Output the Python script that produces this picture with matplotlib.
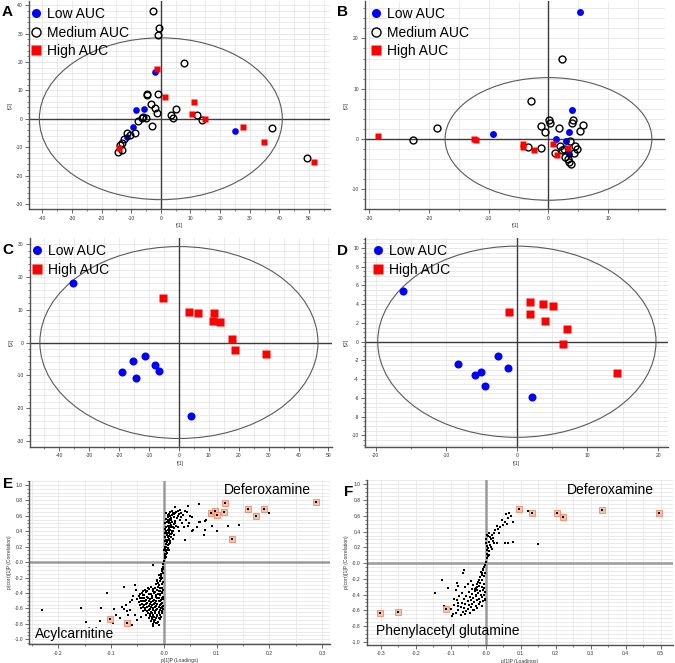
import numpy as np
import matplotlib.pyplot as plt
from matplotlib.patches import Ellipse
from matplotlib.ticker import MultipleLocator, FuncFormatter
from matplotlib.lines import Line2D

plt.rcParams['font.family'] = ['Liberation Sans', 'DejaVu Sans']
plt.rcParams['axes.unicode_minus'] = False

# --- Daten A (Scores, drei Gruppen) ---
a_low_x = [-2.0, -8.4, -5.7, -9.5, -11.5, 25.2]
a_low_y = [16.6, 3.1, 3.3, -2.8, -6.4, -4.2]
a_med_x = [-2.8, -0.5, -1.1, 7.8, -4.8, -4.8, -0.9, -3.4, -2.0, -1.2, 3.5, 5.2, 4.0, 12.1, 14.0,
           37.6, 49.3, -6.1, -5.0, -7.6, -3.1, -8.7, -10.4, -11.3, -12.4, -13.2, -13.8, -13.2, -14.4, -6.5]
a_med_y = [37.9, 32.1, 29.4, 19.7, 8.9, 8.3, 8.9, 5.2, 3.7, 1.9, 1.3, 3.3, 0.1, 1.3, -0.4,
           -3.1, -13.9, 0.7, 0.1, -0.7, -2.5, -5.1, -5.7, -4.9, -7.2, -8.4, -9.2, -11.0, -11.6, 0.1]
a_high_x = [-1.2, 1.4, 11.2, 10.4, 14.9, 27.6, 34.9, 51.7, -14.0]
a_high_y = [17.4, 7.8, 5.8, 1.8, -0.1, -2.8, -8.1, -15.1, -10.4]

# --- Daten B ---
b_low_x = [5.26, 4.0, 3.5, 1.2, 2.9, 3.4, -9.3]
b_low_y = [25.2, 5.8, 1.3, 0.0, -0.5, -3.0, 0.9]
b_med_x = [2.2, -2.9, -18.6, -22.6, 0.1, 0.3, -1.3, -0.6, 1.7, 3.9, 4.1, 5.7, 5.3, -3.5, -1.2,
           1.1, 2.2, 1.9, 3.6, 4.4, 4.8, 4.3, 3.3, 3.5, 3.7, 2.6, 2.7]
b_med_y = [16.0, 7.6, 2.1, -0.3, 3.8, 3.2, 2.5, 1.3, 2.1, 3.2, 3.7, 2.8, 1.6, -1.7, -1.8,
           -2.8, -2.2, -1.5, -0.4, -1.4, -2.0, -2.7, -4.0, -4.5, -5.0, -2.1, -3.5]
b_high_x = [-28.5, -12.4, -12.1, -4.3, -4.2, -2.5, 0.7, 3.3, 1.5]
b_high_y = [0.5, -0.1, -0.2, -1.0, -1.6, -2.2, -1.0, -1.9, -3.2]

# --- Daten C ---
c_low_x = [-35.5, -19.1, -15.4, -11.5, -14.3, -7.9, -6.5, 4.0]
c_low_y = [18.0, -9.0, -5.5, -4.1, -10.9, -6.9, -8.7, -22.3]
c_high_x = [-5.4, 3.5, 6.3, 11.8, 11.5, 13.8, 17.7, 18.8, 29.2]
c_high_y = [13.6, 9.2, 9.0, 8.9, 6.6, 6.3, 1.0, -2.3, -3.6]

# --- Daten D ---
d_low_x = [-16.1, -8.3, -5.9, -5.1, -4.5, -2.7, -1.2, 2.1]
d_low_y = [5.4, -2.4, -3.5, -3.2, -4.7, -1.5, -2.8, -5.9]
d_high_x = [-1.1, 1.8, 1.8, 3.7, 5.1, 4.0, 7.1, 6.6, 14.2]
d_high_y = [3.2, 4.2, 3.0, 4.05, 3.8, 2.2, 1.4, -0.2, -3.3]

# Hotelling-Ellipsen (Halbachsen)
ell_a, ell_b, ell_c, ell_d = (41, 28.5), (17.3, 12.2), (46.5, 29.2), (19.7, 10.2)

# --- Daten E (S-Plot) ---
e_hi = [(0.0885, 0.633), (0.097, 0.663), (0.101, 0.611), (0.116, 0.762), (0.114, 0.646),
        (0.130, 0.300), (0.160, 0.685), (0.174, 0.598), (0.190, 0.685), (0.289, 0.775),
        (-0.102, -0.737), (-0.069, -0.793)]
e_up = [(0.067, 0.75), (0.046, 0.73), (0.022, 0.71), (0.044, 0.65), (0.054, 0.59), (0.066, 0.525),
        (0.078, 0.53), (0.078, 0.42), (0.076, 0.35), (0.092, 0.47), (0.101, 0.40), (0.122, 0.47),
        (0.143, 0.48), (0.200, 0.633), (0.041, 0.287), (0.054, 0.40), (0.035, 0.50), (0.056, 0.42),
        (0.027, 0.46), (0.032, 0.58), (0.018, 0.63), (0.011, 0.65), (0.007, 0.61), (0.024, 0.65),
        (0.037, 0.61), (0.030, 0.67), (0.042, 0.55), (0.049, 0.60), (0.048, 0.50), (0.062, 0.46),
        (0.068, 0.52), (0.080, 0.55), (0.015, 0.66), (0.020, 0.62), (0.026, 0.60), (0.014, 0.56),
        (0.022, 0.53), (0.030, 0.55), (0.038, 0.45), (0.045, 0.47), (0.028, 0.40), (0.020, 0.44),
        (0.016, 0.38), (0.010, 0.47), (0.019, 0.49), (0.025, 0.57), (0.033, 0.63), (0.040, 0.66),
        (0.012, 0.60), (0.005, 0.63), (0.087, 0.64), (0.018, 0.40), (0.020, 0.35), (0.017, 0.30),
        (0.014, 0.33), (0.019, 0.58), (0.022, 0.50)]
e_col = [(0.001, 0.02), (0.002, 0.05), (0.003, 0.08), (0.002, 0.11), (0.004, 0.14), (0.003, 0.17),
         (0.005, 0.20), (0.004, 0.23), (0.006, 0.26), (0.005, 0.29), (0.007, 0.32), (0.006, 0.35),
         (0.008, 0.38), (0.007, 0.41), (0.009, 0.44), (0.008, 0.47), (0.010, 0.50), (0.009, 0.53),
         (0.011, 0.56), (0.008, 0.59), (0.006, 0.12), (0.008, 0.18), (0.009, 0.24), (0.010, 0.30),
         (0.011, 0.36), (0.012, 0.42), (0.013, 0.48), (0.014, 0.54), (0.003, 0.32), (0.004, 0.40),
         (0.005, 0.46), (0.006, 0.52), (0.003, 0.27), (0.002, 0.20), (0.010, 0.15), (0.012, 0.25),
         (0.015, 0.45), (0.016, 0.52), (0.002, 0.38), (0.004, 0.56), (0.004, 0.10), (0.006, 0.16),
         (0.007, 0.22), (0.008, 0.28), (0.009, 0.34), (0.010, 0.39), (0.012, 0.45), (0.012, 0.51),
         (0.013, 0.57), (0.016, 0.61), (0.002, 0.43), (0.003, 0.50), (0.007, 0.55), (0.010, 0.62),
         (0.022, 0.64), (0.026, 0.66), (0.029, 0.62), (0.024, 0.47), (0.018, 0.45), (0.015, 0.40),
         (0.013, 0.36), (0.011, 0.27), (0.001, 0.15), (0.005, 0.07), (0.005, 0.38)]
e_low = [(-0.001, -0.02), (-0.002, -0.06), (-0.004, -0.09), (-0.003, -0.12), (-0.006, -0.15),
         (-0.005, -0.18), (-0.008, -0.21), (-0.007, -0.24), (-0.011, -0.27), (-0.009, -0.30),
         (-0.020, -0.035), (-0.003, -0.20), (-0.010, -0.17), (-0.013, -0.23), (-0.002, -0.26),
         (-0.004, -0.29), (-0.015, -0.29), (-0.024, -0.32), (-0.017, -0.33), (-0.011, -0.32),
         (-0.004, -0.33), (-0.036, -0.36), (-0.028, -0.35), (-0.021, -0.37), (-0.013, -0.36),
         (-0.007, -0.37), (-0.001, -0.36), (-0.041, -0.40), (-0.034, -0.39), (-0.025, -0.41),
         (-0.019, -0.40), (-0.011, -0.41), (-0.004, -0.40), (-0.048, -0.44), (-0.039, -0.43),
         (-0.031, -0.45), (-0.022, -0.44), (-0.015, -0.45), (-0.008, -0.43), (-0.002, -0.45),
         (-0.051, -0.48), (-0.042, -0.47), (-0.034, -0.49), (-0.027, -0.48), (-0.018, -0.49),
         (-0.012, -0.47), (-0.005, -0.49), (-0.001, -0.48), (-0.047, -0.52), (-0.039, -0.51),
         (-0.031, -0.53), (-0.024, -0.52), (-0.017, -0.53), (-0.010, -0.51), (-0.003, -0.53),
         (-0.045, -0.56), (-0.037, -0.55), (-0.029, -0.57), (-0.022, -0.56), (-0.015, -0.57),
         (-0.008, -0.55), (-0.002, -0.57), (-0.043, -0.60), (-0.035, -0.59), (-0.027, -0.61),
         (-0.020, -0.60), (-0.013, -0.61), (-0.006, -0.59), (-0.001, -0.61), (-0.039, -0.64),
         (-0.031, -0.63), (-0.024, -0.65), (-0.017, -0.64), (-0.010, -0.65), (-0.004, -0.63),
         (-0.034, -0.68), (-0.027, -0.67), (-0.020, -0.69), (-0.013, -0.68), (-0.007, -0.69),
         (-0.029, -0.72), (-0.022, -0.71), (-0.015, -0.73), (-0.009, -0.72), (-0.025, -0.76),
         (-0.018, -0.75), (-0.011, -0.77), (-0.021, -0.80), (-0.014, -0.79),
         (-0.030, -0.34), (-0.020, -0.345), (-0.008, -0.34), (-0.040, -0.38), (-0.031, -0.375),
         (-0.017, -0.385), (-0.009, -0.38), (-0.003, -0.385), (-0.045, -0.42), (-0.037, -0.425),
         (-0.029, -0.42), (-0.015, -0.425), (-0.007, -0.415), (-0.046, -0.46), (-0.038, -0.465),
         (-0.030, -0.46), (-0.022, -0.465), (-0.009, -0.46), (-0.004, -0.465), (-0.044, -0.50),
         (-0.035, -0.505), (-0.028, -0.50), (-0.021, -0.505), (-0.014, -0.50), (-0.007, -0.505),
         (-0.042, -0.54), (-0.034, -0.545), (-0.026, -0.54), (-0.019, -0.545), (-0.012, -0.54),
         (-0.006, -0.545), (-0.040, -0.58), (-0.032, -0.585), (-0.024, -0.58), (-0.017, -0.585),
         (-0.010, -0.58), (-0.004, -0.585), (-0.036, -0.62), (-0.028, -0.625), (-0.021, -0.62),
         (-0.014, -0.625), (-0.008, -0.62), (-0.030, -0.66), (-0.023, -0.665), (-0.016, -0.66),
         (-0.010, -0.665), (-0.003, -0.66), (-0.026, -0.70), (-0.019, -0.705), (-0.012, -0.70),
         (-0.005, -0.705), (-0.023, -0.74), (-0.016, -0.745), (-0.008, -0.74), (-0.019, -0.78),
         (-0.012, -0.785), (-0.012, -0.25), (-0.006, -0.22), (-0.001, -0.14), (-0.002, -0.09)]
e_sparse = [(-0.230, -0.62), (-0.157, -0.59), (-0.148, -0.78), (-0.119, -0.59), (-0.121, -0.76),
            (-0.108, -0.40), (-0.097, -0.79), (-0.094, -0.61), (-0.075, -0.32), (-0.071, -0.56),
            (-0.064, -0.62), (-0.060, -0.49), (-0.055, -0.30), (-0.053, -0.36), (-0.050, -0.75),
            (-0.055, -0.68), (-0.043, -0.71), (-0.067, -0.68), (-0.076, -0.61), (-0.090, -0.68),
            (-0.084, -0.72), (-0.061, -0.81), (-0.020, -0.83), (-0.009, -0.81), (-0.058, -0.44),
            (-0.065, -0.52), (-0.080, -0.58), (-0.070, -0.64)]

# --- Daten F (S-Plot) ---
f_hi = [(0.096, 0.686), (0.131, 0.64), (0.205, 0.63), (0.220, 0.59), (0.331, 0.68), (0.496, 0.63),
        (-0.302, -0.63), (-0.251, -0.62), (-0.113, -0.585)]
f_up = [(0.122, 0.66), (0.149, 0.245), (0.067, 0.64), (0.071, 0.60), (0.065, 0.57), (0.055, 0.525),
        (0.077, 0.52), (0.050, 0.48), (0.041, 0.46), (0.031, 0.47), (0.046, 0.545), (0.024, 0.38),
        (0.039, 0.385), (0.010, 0.38), (0.007, 0.34), (0.014, 0.31), (0.020, 0.28), (0.024, 0.25),
        (0.012, 0.23), (0.007, 0.19), (0.017, 0.175), (0.005, 0.12), (0.003, 0.06), (0.001, 0.017),
        (0.031, 0.26), (0.055, 0.26), (0.065, 0.25), (0.079, 0.27), (0.004, 0.36), (0.002, 0.30),
        (0.008, 0.27), (0.015, 0.21), (0.003, 0.22), (0.010, 0.15), (0.006, 0.09), (0.012, 0.33),
        (0.018, 0.36), (0.002, 0.26), (0.009, 0.10), (0.004, 0.17), (0.020, 0.32), (0.027, 0.42),
        (0.034, 0.43), (0.060, 0.50), (0.058, 0.62)]
f_low = [(-0.002, -0.025), (-0.007, -0.09), (-0.010, -0.12), (-0.016, -0.18), (-0.021, -0.24),
         (-0.026, -0.30), (-0.004, -0.05), (-0.012, -0.15), (-0.018, -0.21), (-0.024, -0.27),
         (-0.008, -0.07), (-0.014, -0.11), (-0.003, -0.13), (-0.006, -0.17), (-0.010, -0.21),
         (-0.005, -0.26), (-0.015, -0.25), (-0.030, -0.33), (-0.035, -0.28), (-0.028, -0.31),
         (-0.020, -0.29), (-0.012, -0.30), (-0.006, -0.32), (-0.040, -0.33), (-0.032, -0.35),
         (-0.024, -0.34), (-0.016, -0.36), (-0.008, -0.34), (-0.002, -0.37), (-0.048, -0.37),
         (-0.038, -0.39), (-0.029, -0.40), (-0.021, -0.38), (-0.013, -0.41), (-0.005, -0.40),
         (-0.055, -0.42), (-0.045, -0.43), (-0.036, -0.44), (-0.027, -0.42), (-0.018, -0.45),
         (-0.010, -0.43), (-0.003, -0.47), (-0.062, -0.46), (-0.052, -0.48), (-0.042, -0.47),
         (-0.033, -0.49), (-0.024, -0.47), (-0.015, -0.50), (-0.007, -0.48), (-0.068, -0.51),
         (-0.058, -0.52), (-0.048, -0.53), (-0.038, -0.52), (-0.029, -0.54), (-0.020, -0.52),
         (-0.012, -0.55), (-0.072, -0.56), (-0.062, -0.57), (-0.052, -0.58), (-0.043, -0.56),
         (-0.033, -0.59), (-0.024, -0.57), (-0.078, -0.60), (-0.066, -0.62), (-0.055, -0.61),
         (-0.045, -0.63), (-0.036, -0.60), (-0.085, -0.64), (-0.070, -0.66), (-0.058, -0.65),
         (-0.095, -0.67), (-0.075, -0.42), (-0.068, -0.38), (-0.085, -0.34), (-0.078, -0.29),
         (-0.090, -0.45), (-0.060, -0.30), (-0.050, -0.26), (-0.042, -0.23), (-0.092, -0.53),
         (-0.100, -0.58), (-0.080, -0.55)]
f_sparse = [(-0.126, -0.21), (-0.107, -0.31), (-0.062, -0.09), (-0.064, -0.12), (-0.083, -0.25),
            (-0.116, -0.56), (-0.093, -0.65), (-0.002, -0.45), (-0.145, -0.377), (-0.119, -0.54),
            (-0.083, -0.47), (-0.080, -0.51)]

e_label_top, e_label_bot = 'Deferoxamine', 'Acylcarnitine'
f_label_top, f_label_bot = 'Deferoxamine', 'Phenylacetyl glutamine'

# --- Layout ---
W, H = 675, 663
fig = plt.figure(figsize=(W / 100, H / 100), dpi=100)


def px_axes(x0, x1, y0, y1):
    return fig.add_axes([x0 / W, 1 - y1 / H, (x1 - x0) / W, (y1 - y0) / H])


def style_axes(ax, xlim, ylim, xmaj, xmin, ymaj, ymin, zero_col='#3c3c3c', zero_lw=1.0):
    ax.set_xlim(*xlim)
    ax.set_ylim(*ylim)
    ax.xaxis.set_major_locator(MultipleLocator(xmaj))
    ax.xaxis.set_minor_locator(MultipleLocator(xmin))
    ax.yaxis.set_major_locator(MultipleLocator(ymaj))
    ax.yaxis.set_minor_locator(MultipleLocator(ymin))
    ax.grid(which='both', color='#e6e6e6', lw=0.6)
    ax.set_axisbelow(True)
    for s in ['top', 'right']:
        ax.spines[s].set_visible(False)
    for s in ['left', 'bottom']:
        ax.spines[s].set_color('#505050')
        ax.spines[s].set_linewidth(1.0)
    ax.tick_params(which='major', length=3, width=0.6, color='#505050', labelsize=3.6,
                   labelcolor='#333333', pad=1.5)
    ax.tick_params(which='minor', length=1.5, width=0.5, color='#505050')
    ax.axhline(0, color=zero_col, lw=zero_lw, zorder=1)
    ax.axvline(0, color=zero_col, lw=zero_lw, zorder=1)


def score_panel(ax, ell, groups, leg_dx, ms):
    ax.add_patch(Ellipse((0, 0), 2 * ell[0], 2 * ell[1], fill=False, ec='#5a5a5a', lw=0.8, zorder=2))
    handles, labels = [], []
    for name, xs, ys, kind in groups:
        if kind == 'low':
            kw = dict(marker='o', color='#0000ff', mec='none')
        elif kind == 'med':
            kw = dict(marker='o', mfc='none', mec='black', mew=1.0)
        else:
            kw = dict(marker='s', color='#ff0000', mec='none')
        ax.plot(xs, ys, ls='none', ms=ms, zorder=3, **kw)
        handles.append(Line2D([], [], ls='none', ms=6.5, **kw))
        labels.append(name)
    ax.legend(handles, labels, loc='upper left', bbox_to_anchor=(leg_dx, 1.0), frameon=False,
              fontsize=10, borderpad=0, borderaxespad=0.44, handlelength=1.0, handletextpad=0.3,
              labelspacing=0.34)
    ax.set_xlabel('t[1]', fontsize=3.6, labelpad=2, color='#333333')
    ax.set_ylabel('t[2]', fontsize=3.6, labelpad=2, color='#333333')


# A
axA = px_axes(29.3, 330, 0.7, 209.3)
style_axes(axA, (-44.4, 57.1), (-31.9, 41.6), 10, 5, 10, 2)
score_panel(axA, ell_a, [('Low AUC', a_low_x, a_low_y, 'low'),
                         ('Medium AUC', a_med_x, a_med_y, 'med'),
                         ('High AUC', a_high_x, a_high_y, 'high')], -0.02, 4.8)

# B
axB = px_axes(365, 665, 0.7, 209.3)
style_axes(axB, (-30.7, 19.5), (-14, 27.5), 10, 5, 10, 2)
score_panel(axB, ell_b, [('Low AUC', b_low_x, b_low_y, 'low'),
                         ('Medium AUC', b_med_x, b_med_y, 'med'),
                         ('High AUC', b_high_x, b_high_y, 'high')], -0.007, 5.0)

# C
axC = px_axes(30, 331.7, 237.7, 446.7)
style_axes(axC, (-49.8, 51.1), (-31.7, 31.9), 10, 5, 10, 2)
score_panel(axC, ell_c, [('Low AUC', c_low_x, c_low_y, 'low'),
                         ('High AUC', c_high_x, c_high_y, 'high')], -0.02, 5.8)

# D
axD = px_axes(365, 668, 237.7, 446.7)
style_axes(axD, (-21.5, 21.4), (-11.2, 11.1), 10, 5, 2, 0.5)
score_panel(axD, ell_d, [('Low AUC', d_low_x, d_low_y, 'low'),
                         ('High AUC', d_high_x, d_high_y, 'high')], 0.0, 5.8)


def load_fmt(v, pos):
    s = f'{v:.1f}'
    return '-0.0' if s in ('0.0', '-0.0') else s


def s_plot(ax, hi, dots, top_lab, bot_lab, top_xy, bot_xy):
    pts = np.array(dots)
    hp = np.array(hi)
    ax.plot(pts[:, 0], pts[:, 1], ls='none', marker='s', ms=2.1, color='black', mew=0, zorder=3)
    ax.plot(hp[:, 0], hp[:, 1], ls='none', marker='s', ms=4.2, mfc='#f9c2aa', mec='#ec8c6c',
            mew=0.6, zorder=4)
    ax.plot(hp[:, 0], hp[:, 1], ls='none', marker='s', ms=1.7, color='black', mew=0, zorder=5)
    ax.xaxis.set_major_formatter(FuncFormatter(load_fmt))
    ax.yaxis.set_major_formatter(FuncFormatter(load_fmt))
    ax.set_xlabel('p[1]P (Loadings)', fontsize=3.6, labelpad=2, color='#333333')
    ax.set_ylabel('p(corr)[1]P (Correlation)', fontsize=3.6, labelpad=2, color='#333333')
    ax.text(*top_xy, top_lab, transform=ax.transAxes, fontsize=10, ha='left', va='center')
    ax.text(*bot_xy, bot_lab, transform=ax.transAxes, fontsize=10, ha='left', va='center')


# E
axE = px_axes(29.3, 330, 481, 644.3)
style_axes(axE, (-0.255, 0.315), (-1.065, 1.05), 0.1, 0.05, 0.2, 0.05, zero_col='#9a9a9a', zero_lw=1.8)
s_plot(axE, e_hi, e_up + e_col + e_low + e_sparse, e_label_top, e_label_bot,
       ((224 - 29.3) / 300.7, 1 - (490 - 481) / 163.3), ((35 - 29.3) / 300.7, 1 - (634 - 481) / 163.3))

# F
axF = px_axes(366.7, 673.3, 480, 645)
style_axes(axF, (-0.34, 0.536), (-1.04, 1.055), 0.1, 0.05, 0.2, 0.05, zero_col='#9a9a9a', zero_lw=1.8)
s_plot(axF, f_hi, f_up + f_low + f_sparse, f_label_top, f_label_bot,
       ((567 - 366.7) / 306.6, 1 - (490 - 480) / 165), ((376 - 366.7) / 306.6, 1 - (631 - 480) / 165))

# Panel-Buchstaben
for letter, px, py in [('A', 2, 12.3), ('B', 337, 12.5), ('C', 2, 250), ('D', 337, 251),
                       ('E', 3, 484), ('F', 344, 492)]:
    fig.text(px / W, 1 - py / H, letter, fontsize=11, fontweight='bold', ha='left', va='center')

fig.savefig('out.png', dpi=100)
